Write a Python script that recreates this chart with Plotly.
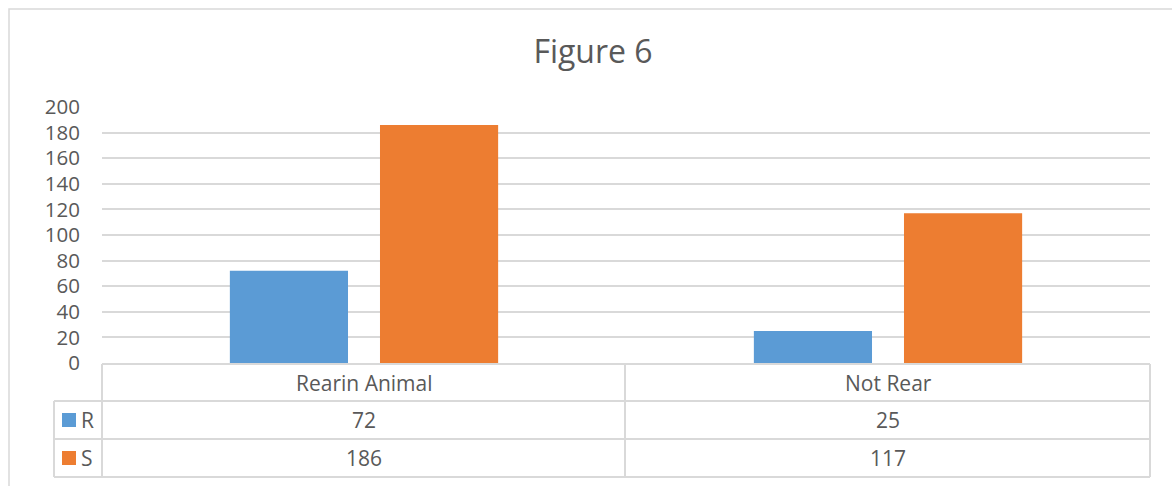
import plotly.graph_objects as go

# Chart data
categories = ["Rearin Animal", "Not Rear"]
series_names = ["R", "S"]
r_values = [72, 25]
s_values = [186, 117]
y_ticks = [0, 20, 40, 60, 80, 100, 120, 140, 160, 180, 200]

BLUE = "#5B9BD5"
ORANGE = "#ED7D31"
GRID = "#D9D9D9"
TEXT = "#595959"
FONT = "Open Sans"

W, H = 1172, 486
PL, PR, PT, PB = 102, 1150, 107, 363  # plot area in pixels


def px(x):
    return (x - PL) / (PR - PL)


def py(y):
    return (PB - y) / (PB - PT)


fig = go.Figure()
fig.add_trace(go.Bar(name=series_names[0], x=categories, y=r_values,
                     marker=dict(color=BLUE, line=dict(width=0))))
fig.add_trace(go.Bar(name=series_names[1], x=categories, y=s_values,
                     marker=dict(color=ORANGE, line=dict(width=0))))

shapes = []
line = dict(color=GRID, width=2)

# outer chart frame
shapes.append(dict(type="rect", xref="paper", yref="paper",
                   x0=px(9), x1=px(1200), y0=py(9), y1=py(520),
                   line=dict(color=GRID, width=1.5), layer="below"))

# data table grid
row_y = [364, 401, 439, 477]
col_x = [54, 102, 625, 1150]
shapes.append(dict(type="line", xref="paper", yref="paper",
                   x0=px(102), x1=px(1150), y0=py(364), y1=py(364), line=line))
for yy in row_y[1:]:
    shapes.append(dict(type="line", xref="paper", yref="paper",
                       x0=px(54), x1=px(1150), y0=py(yy), y1=py(yy), line=line))
shapes.append(dict(type="line", xref="paper", yref="paper",
                   x0=px(54), x1=px(54), y0=py(401), y1=py(477), line=line))
for xx in col_x[1:]:
    shapes.append(dict(type="line", xref="paper", yref="paper",
                       x0=px(xx), x1=px(xx), y0=py(364), y1=py(477), line=line))

# legend keys inside the table
for color, (top, bot) in zip([BLUE, ORANGE], [(401, 439), (439, 477)]):
    c = (top + bot) / 2
    shapes.append(dict(type="rect", xref="paper", yref="paper",
                       x0=px(62), x1=px(76), y0=py(c - 7), y1=py(c + 7),
                       fillcolor=color, line=dict(width=0)))

annotations = []
tfont = dict(family=FONT, size=21, color=TEXT)
for cat in categories:
    annotations.append(dict(x=cat, xref="x", y=py(382.5), yref="paper",
                            text=cat, showarrow=False, font=tfont,
                            xanchor="center", yanchor="middle"))
for name, vals, (top, bot) in zip(series_names, [r_values, s_values],
                                  [(401, 439), (439, 477)]):
    c = (top + bot) / 2
    annotations.append(dict(x=px(79), xref="paper", y=py(c), yref="paper",
                            text=name, showarrow=False, font=tfont,
                            xanchor="left", yanchor="middle"))
    for cat, v in zip(categories, vals):
        annotations.append(dict(x=cat, xref="x", y=py(c), yref="paper",
                                text=str(v), showarrow=False, font=tfont,
                                xanchor="center", yanchor="middle"))

fig.update_layout(
    width=W, height=H,
    margin=dict(l=PL, r=W - PR, t=PT, b=H - PB, pad=0),
    paper_bgcolor="white", plot_bgcolor="white",
    barmode="group", bargap=0.427, bargroupgap=0.213,
    showlegend=False,
    title=dict(text="Figure 6", x=593 / W, xanchor="center",
               y=1 - 52 / H, yanchor="middle",
               font=dict(family=FONT, size=32, color=TEXT)),
    xaxis=dict(showticklabels=False, showgrid=False, showline=False,
               zeroline=False, ticks=""),
    yaxis=dict(range=[0, 200], tickvals=y_ticks, showgrid=True,
               gridcolor=GRID, gridwidth=1.5, zeroline=False,
               showline=False, ticks="", ticklabelstandoff=21,
               tickfont=dict(family=FONT, size=20.5, color=TEXT)),
    shapes=shapes,
    annotations=annotations,
)

fig.write_html("out.html")
